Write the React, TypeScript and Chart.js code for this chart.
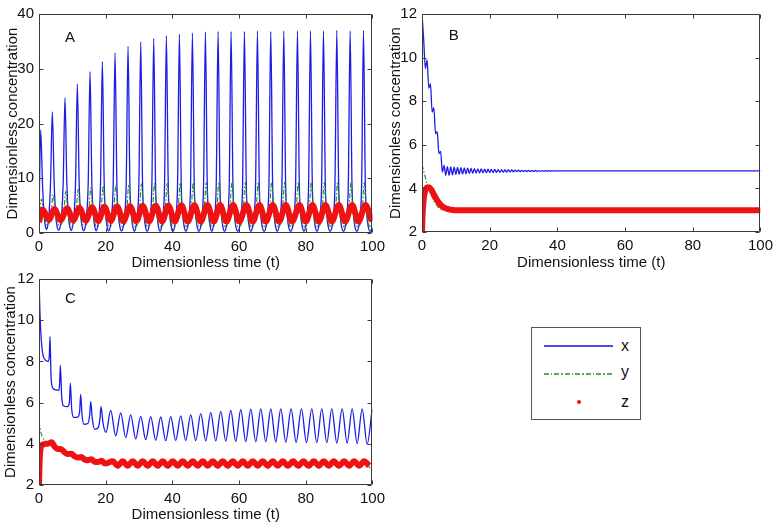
import React, { useEffect, useRef } from 'react';
import { Chart, registerables } from 'chart.js';

Chart.register(...registerables);

const FONT = "'Liberation Sans', Arial, Helvetica, sans-serif";
const BLUE = '#1c1ce6';
const GREEN = '#1f8a1f';
const RED = '#f01212';
const TEXT = '#111111';

// ---------- Panel A (sustained oscillations) ----------
const aPeakT = [0.5, 4.0, 7.8, 11.5, 15.3, 19.0, 22.8, 26.7, 30.5, 34.4, 38.2, 42.1, 46.0, 49.9, 53.7, 57.6, 61.6, 65.5, 69.5, 73.4, 77.5, 81.4, 85.3, 89.3, 93.3, 97.3];
const aXPeak = [18.8, 22.1, 24.7, 27.2, 29.5, 31.3, 32.9, 34.1, 34.9, 35.5, 36.0, 36.3, 36.5, 36.7, 36.8, 36.8, 36.8, 36.9, 36.8, 36.9, 36.9, 36.9, 36.9, 37.0, 36.9, 37.0];
const aXTrough = [0.6, 0.5, 0.45, 0.4, 0.4, 0.35, 0.35, 0.3, 0.3, 0.3, 0.3, 0.3, 0.3, 0.3, 0.3, 0.3, 0.3, 0.3, 0.3, 0.3, 0.3, 0.3, 0.3, 0.3, 0.3, 0.3];
const aXSpikeOffset = [0.55, 1.05, 1.45];
const aXSpikeLevel = [9.0, 3.0, 1.1];
const aYPeak = [6.2, 7.0, 7.6, 8.0, 8.3, 8.6, 8.8, 8.9, 9.0, 9.1, 9.1, 9.2, 9.2, 9.2, 9.2, 9.2, 9.2, 9.2, 9.2, 9.2, 9.2, 9.2, 9.2, 9.2, 9.2, 9.2];
const aYTrough = [1.4, 1.3, 1.3, 1.25, 1.2, 1.2, 1.2, 1.2, 1.2, 1.2, 1.2, 1.2, 1.2, 1.2, 1.2, 1.2, 1.2, 1.2, 1.2, 1.2, 1.2, 1.2, 1.2, 1.2, 1.2, 1.2];
const aZPeak = [4.3, 4.4, 4.5, 4.6, 4.7, 4.8, 4.85, 4.9, 4.95, 5.0, 5.0, 5.05, 5.05, 5.1, 5.1, 5.1, 5.1, 5.1, 5.1, 5.1, 5.1, 5.1, 5.1, 5.1, 5.1, 5.1];
const aZTrough = [2.4, 2.35, 2.3, 2.25, 2.2, 2.2, 2.15, 2.15, 2.1, 2.1, 2.1, 2.1, 2.1, 2.1, 2.1, 2.1, 2.1, 2.1, 2.1, 2.1, 2.1, 2.1, 2.1, 2.1, 2.1, 2.1];

// ---------- Panel B (damped to steady state) ----------
const bXStep = 0.5;
const bX = [
  12.0, 10.8, 9.5, 9.9, 8.6, 8.8, 7.5, 7.7, 6.5, 6.6,
  5.6, 5.7, 4.75, 5.05, 4.6, 5.0, 4.6, 4.99, 4.62, 4.97,
  4.64, 4.96, 4.65, 4.95, 4.66, 4.94, 4.67, 4.93, 4.68, 4.92,
  4.69, 4.91, 4.70, 4.90, 4.71, 4.89, 4.715, 4.885, 4.72, 4.88,
  4.725, 4.875, 4.73, 4.87, 4.735, 4.865, 4.74, 4.86, 4.745, 4.855,
  4.75, 4.85, 4.755, 4.845, 4.76, 4.84, 4.765, 4.835, 4.77, 4.83,
  4.772, 4.828, 4.775, 4.825, 4.778, 4.822, 4.78, 4.82, 4.783, 4.817,
  4.785, 4.815, 4.788, 4.812, 4.79, 4.81, 4.792, 4.808, 4.795, 4.805,
  4.8,
];
const bXTailT = [100];
const bXTailV = [4.8];
const bYT = [0, 0.5, 1, 1.5, 2, 3, 4, 5, 6, 8, 10, 100];
const bYV = [5.1, 4.8, 4.5, 4.2, 4.0, 3.6, 3.3, 3.1, 3.02, 3.0, 3.0, 3.0];
const bZT = [0, 0.2, 0.5, 0.8, 1.2, 1.7, 2.2, 2.8, 3.5, 4.5, 5.5, 6.5, 8, 10, 100];
const bZV = [2.0, 2.9, 3.5, 3.8, 4.0, 4.05, 4.04, 3.93, 3.72, 3.45, 3.25, 3.12, 3.04, 3.0, 3.0];

// ---------- Panel C (damped then sustained small oscillations) ----------
const cXT = [0, 0.3, 0.7, 1.2, 2.0, 2.8, 3.1, 3.3, 3.6, 4.0, 5.0, 6.0, 6.2, 6.4, 6.8, 7.3, 8.5, 9.1, 9.4, 9.8, 10.4, 11.6, 12.2, 12.5, 12.9, 13.5, 14.7, 15.2, 15.5, 16.0, 16.7, 17.8, 18.3, 18.6, 19.2, 20.1];
const cXV = [12.0, 10.3, 9.0, 8.3, 8.05, 8.0, 8.3, 9.2, 7.3, 6.75, 6.62, 6.6, 7.0, 7.8, 6.3, 5.85, 5.8, 6.0, 6.95, 5.7, 5.28, 5.3, 5.6, 6.4, 5.4, 4.95, 5.0, 5.4, 6.05, 5.2, 4.7, 4.8, 5.25, 5.8, 5.0, 4.55];
const cPeakT = [21.5, 24.5, 27.5, 30.5, 33.5, 36.5, 39.5, 42.5, 45.5, 48.5, 51.5, 54.5, 57.5, 60.5, 63.5, 66.5, 69.5, 72.5, 75.6, 78.7, 81.8, 84.8, 87.8, 90.9, 93.9, 96.9, 99.9];
const cPeakV = [5.62, 5.5, 5.4, 5.33, 5.32, 5.3, 5.32, 5.36, 5.4, 5.46, 5.52, 5.57, 5.62, 5.66, 5.68, 5.7, 5.7, 5.7, 5.7, 5.7, 5.7, 5.7, 5.7, 5.7, 5.7, 5.7, 5.68];
const cTroughV = [4.38, 4.3, 4.24, 4.2, 4.17, 4.15, 4.16, 4.16, 4.15, 4.14, 4.14, 4.13, 4.12, 4.11, 4.1, 4.1, 4.09, 4.08, 4.07, 4.06, 4.05, 4.05, 4.04, 4.03, 4.02, 3.98];
const cZT = [0, 0.2, 0.5, 1.0, 2.0, 3.0, 3.8, 4.6, 5.6, 6.6, 7.6, 8.6, 9.7, 10.6, 11.6, 12.7, 13.6, 14.6, 15.7, 16.7, 17.7, 18.8, 19.8];
const cZV = [2.0, 3.2, 3.8, 3.95, 4.0, 4.02, 4.08, 3.88, 3.75, 3.74, 3.6, 3.5, 3.52, 3.4, 3.33, 3.36, 3.24, 3.2, 3.25, 3.13, 3.12, 3.18, 3.04];
const cZHigh = 3.15;
const cZLow = 2.93;
const cYT = [0, 0.5, 1.0, 2.0, 3.0, 3.8, 4.6, 5.6, 6.6, 7.6, 8.6, 9.7, 10.6, 11.6, 12.7, 13.6, 14.6, 15.7, 16.7, 17.7, 18.8, 19.8];
const cYV = [5.1, 4.6, 4.35, 4.12, 4.08, 4.15, 3.85, 3.72, 3.76, 3.55, 3.45, 3.56, 3.35, 3.28, 3.4, 3.18, 3.15, 3.3, 3.08, 3.06, 3.22, 2.98];
const cYHigh = 3.22;
const cYLow = 2.82;

type P = { x: number; y: number };
const zip = (t: number[], v: number[]): P[] => t.map((tt, i) => ({ x: tt, y: v[i] }));

function buildA() {
  const x: P[] = [{ x: 0, y: 2.0 }];
  const y: P[] = [{ x: 0, y: 2.0 }];
  const z: P[] = [{ x: 0, y: 2.0 }];
  const n = aPeakT.length;
  for (let i = 0; i < n; i++) {
    const p = aPeakT[i];
    const q = i < n - 1 ? aPeakT[i + 1] : p + 3.8;
    const mid = (p + q) / 2;
    if (i > 0) {
      for (let k = aXSpikeOffset.length - 1; k >= 0; k--) x.push({ x: p - aXSpikeOffset[k], y: aXSpikeLevel[k] });
      y.push({ x: p - 0.5, y: 3.0 });
    }
    x.push({ x: p, y: aXPeak[i] });
    for (let k = 0; k < aXSpikeOffset.length; k++) x.push({ x: p + aXSpikeOffset[k], y: aXSpikeLevel[k] });
    x.push({ x: Math.min(mid, 99.6), y: aXTrough[i] });
    y.push({ x: p + 0.25, y: aYPeak[i] });
    y.push({ x: p + 0.9, y: 3.5 });
    y.push({ x: Math.min(mid + 0.3, 99.7), y: aYTrough[i] });
    z.push({ x: p + 0.6, y: aZPeak[i] });
    if (p + 2.5 <= 100) z.push({ x: p + 2.5, y: aZTrough[i] });
  }
  x.push({ x: 100, y: 0.8 });
  y.push({ x: 100, y: 1.4 });
  return { x, y, z };
}

function buildB() {
  const x: P[] = bX.map((v, i) => ({ x: i * bXStep, y: v })).concat(zip(bXTailT, bXTailV));
  return { x, y: zip(bYT, bYV), z: zip(bZT, bZV) };
}

function buildC() {
  const x: P[] = zip(cXT, cXV);
  cPeakT.forEach((p, i) => {
    x.push({ x: p, y: cPeakV[i] });
    if (i < cTroughV.length) x.push({ x: p + 1.5, y: cTroughV[i] });
  });
  const z: P[] = zip(cZT, cZV);
  const y: P[] = zip(cYT, cYV);
  cPeakT.forEach((p) => {
    if (p + 0.6 <= 100) z.push({ x: p + 0.6, y: cZHigh });
    if (p + 2.1 <= 100) z.push({ x: p + 2.1, y: cZLow });
    if (p + 0.8 <= 100) y.push({ x: p + 0.8, y: cYHigh });
    if (p + 2.3 <= 100) y.push({ x: p + 2.3, y: cYLow });
  });
  return { x, y, z };
}

const framePlugin = {
  id: 'frame',
  afterDatasetsDraw(chart: any, _args: any, opts: any) {
    const { ctx, chartArea } = chart;
    const xs = chart.scales.x;
    const ys = chart.scales.y;
    const L = Math.round(chartArea.left) + 0.5;
    const R = Math.round(chartArea.right) - 0.5;
    const T = Math.round(chartArea.top) + 0.5;
    const B = Math.round(chartArea.bottom) - 0.5;
    ctx.save();
    ctx.strokeStyle = '#3a3a3a';
    ctx.lineWidth = 1;
    ctx.beginPath();
    ctx.rect(L, T, R - L, B - T);
    const len = 4;
    xs.ticks.forEach((t: any) => {
      const px = Math.round(xs.getPixelForValue(t.value)) + 0.5;
      ctx.moveTo(px, B);
      ctx.lineTo(px, B - len);
      ctx.moveTo(px, T);
      ctx.lineTo(px, T + len);
    });
    ys.ticks.forEach((t: any) => {
      const py = Math.round(ys.getPixelForValue(t.value)) + 0.5;
      ctx.moveTo(L, py);
      ctx.lineTo(L + len, py);
      ctx.moveTo(R, py);
      ctx.lineTo(R - len, py);
    });
    ctx.stroke();
    if (opts && opts.label) {
      ctx.font = `15px ${FONT}`;
      ctx.fillStyle = TEXT;
      ctx.textAlign = 'left';
      ctx.textBaseline = 'middle';
      ctx.fillText(opts.label, xs.getPixelForValue(opts.lx), ys.getPixelForValue(opts.ly));
    }
    ctx.restore();
  },
};

function datasets(d: { x: P[]; y: P[]; z: P[] }) {
  return [
    { label: 'z', data: d.z, borderColor: RED, borderWidth: 6, pointRadius: 0, cubicInterpolationMode: 'monotone' },
    { label: 'y', data: d.y, borderColor: GREEN, borderWidth: 1.1, borderDash: [5, 2, 1.5, 2], pointRadius: 0, cubicInterpolationMode: 'monotone' },
    { label: 'x', data: d.x, borderColor: BLUE, borderWidth: 1.3, pointRadius: 0, cubicInterpolationMode: 'monotone' },
  ];
}

function config(d: any, yMin: number, yMax: number, yStep: number, label: string, lx: number, ly: number, pad: any, yTitlePad: number, xh: number, yw: number) {
  return {
    type: 'line',
    data: { datasets: datasets(d) },
    options: {
      animation: false,
      responsive: false,
      devicePixelRatio: 1,
      events: [],
      layout: { padding: pad },
      plugins: {
        legend: { display: false },
        tooltip: { enabled: false },
        frame: { label, lx, ly },
      },
      scales: {
        x: {
          type: 'linear',
          min: 0,
          max: 100,
          grid: { display: false, drawTicks: false },
          border: { display: false },
          ticks: { stepSize: 20, padding: 5, maxRotation: 0, autoSkip: false, color: TEXT, font: { family: FONT, size: 15 } },
          title: { display: true, text: 'Dimensionless time (t)', color: TEXT, font: { family: FONT, size: 15 }, padding: { top: 0, bottom: 0 } },
          afterFit: (s: any) => { s.height = xh; },
        },
        y: {
          type: 'linear',
          min: yMin,
          max: yMax,
          grid: { display: false, drawTicks: false },
          border: { display: false },
          ticks: { stepSize: yStep, padding: 5, autoSkip: false, color: TEXT, font: { family: FONT, size: 15 } },
          title: { display: true, text: 'Dimensionless concentration', color: TEXT, font: { family: FONT, size: 15 }, padding: { top: yTitlePad, bottom: 0 } },
          afterFit: (s: any) => { s.width = yw; },
        },
      },
    },
    plugins: [framePlugin],
  };
}

function Panel(props: { left: number; top: number; width: number; height: number; cfg: any }) {
  const ref = useRef<HTMLCanvasElement | null>(null);
  useEffect(() => {
    if (!ref.current) return;
    const chart = new Chart(ref.current, props.cfg);
    return () => chart.destroy();
  }, []);
  return (
    <canvas
      ref={ref}
      width={props.width}
      height={props.height}
      style={{ position: 'absolute', left: props.left, top: props.top, width: props.width, height: props.height }}
    />
  );
}

const legendText: React.CSSProperties = { position: 'absolute', left: 89, fontFamily: FONT, fontSize: 16, color: TEXT, lineHeight: '16px' };

export default function App() {
  const cfgA = config(buildA(), 0, 40, 10, 'A', 7.8, 35.6, { top: 10, right: 17, bottom: 0, left: 0 }, 4, 39, 39);
  const cfgB = config(buildB(), 2, 12, 2, 'B', 7.9, 11.0, { top: 10, right: 16, bottom: 0, left: 0 }, 4, 40, 39);
  const cfgC = config(buildC(), 2, 12, 2, 'C', 7.8, 11.05, { top: 10, right: 17, bottom: 2, left: 0 }, 2, 39, 39);
  return (
    <div style={{ position: 'absolute', left: 0, top: 0, width: 778, height: 526, background: '#fff', overflow: 'hidden' }}>
      <Panel left={0} top={0} width={390} height={272} cfg={cfgA} />
      <Panel left={383} top={0} width={395} height={272} cfg={cfgB} />
      <Panel left={0} top={265} width={390} height={261} cfg={cfgC} />
      <div style={{ position: 'absolute', left: 531, top: 327, width: 108, height: 91, border: '1px solid #555', background: '#fff' }}>
        <div style={{ position: 'absolute', left: 12, top: 17, width: 69, height: 2, background: '#4a4af0' }} />
        <div
          style={{
            position: 'absolute', left: 12, top: 45, width: 69, height: 2,
            background: `repeating-linear-gradient(to right, #5aa85a 0px, #5aa85a 5px, transparent 5px, transparent 7px, #5aa85a 7px, #5aa85a 8.5px, transparent 8.5px, transparent 10.5px)`,
          }}
        />
        <div style={{ position: 'absolute', left: 45, top: 72, width: 4, height: 4, borderRadius: 2, background: RED }} />
        <div style={{ ...legendText, top: 10 }}>x</div>
        <div style={{ ...legendText, top: 36 }}>y</div>
        <div style={{ ...legendText, top: 66 }}>z</div>
      </div>
    </div>
  );
}
